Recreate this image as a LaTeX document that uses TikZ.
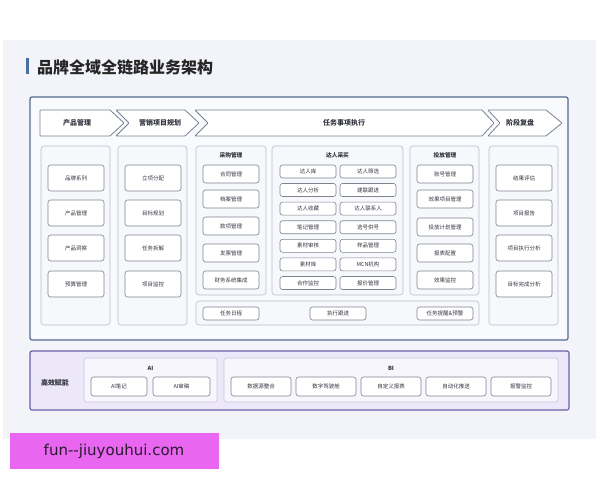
\documentclass[tikz,border=0pt]{standalone}
\usepackage{fontspec}
\setmainfont{Noto Sans CJK SC}
\newfontfamily\wmfont{DejaVu Sans}
\definecolor{bgpanel}{HTML}{F2F4FA}
\definecolor{frameline}{HTML}{56698F}
\definecolor{framefill}{HTML}{F9FAFD}
\definecolor{colline}{HTML}{B9BEC9}
\definecolor{colfill}{HTML}{F7F8FC}
\definecolor{boxline}{HTML}{7E838E}
\definecolor{chevline}{HTML}{7A8092}
\definecolor{txt}{HTML}{333640}
\definecolor{titlebar}{HTML}{4A6FA5}
\definecolor{purpfill}{HTML}{ECE8FA}
\definecolor{purpline}{HTML}{6D5FA8}
\definecolor{purpin}{HTML}{F7F6FD}
\definecolor{purpinline}{HTML}{C9C4DC}
\definecolor{wmcol}{HTML}{E866F0}
\definecolor{wmtext}{HTML}{2A1A30}
\begin{document}
\begin{tikzpicture}[x=1pt,y=-1pt,
  box/.style={draw=boxline, fill=white, rounded corners=2.5pt, line width=0.6pt,
    font=\fontsize{5.5}{6}\selectfont, text=txt, inner sep=0pt},
  bigbox/.style={box, minimum width=56pt, minimum height=26pt},
  midbox/.style={box, minimum width=56pt, minimum height=18pt},
  smallbox/.style={box, minimum width=56pt, minimum height=13pt},
  bibox/.style={box, minimum width=60pt, minimum height=19pt},
  colbox/.style={draw=colline, fill=colfill, rounded corners=3pt, line width=0.6pt},
  chev/.style={draw=chevline, fill=white, line width=0.8pt, rounded corners=0.6pt},
  chevlabel/.style={font=\bfseries\fontsize{7}{8}\selectfont, text=txt},
  hdr/.style={font=\bfseries\fontsize{5.7}{6}\selectfont, text=txt},
  inbox/.style={draw=purpinline, fill=purpin, rounded corners=2.5pt, line width=0.6pt}
]
\useasboundingbox (0,0) rectangle (600,480);
\fill[white] (0,0) rectangle (600,480);
% background panel
\fill[bgpanel] (3,40) rectangle (596,439);
% title
\fill[titlebar] (26,58) rectangle (28.5,74);
\node[anchor=west, font=\bfseries\fontsize{16}{18}\selectfont, text=black!85, inner sep=0pt] (title) at (37,67) {品牌全域全链路业务架构};
% main frame
\draw[frameline, fill=framefill, line width=1.2pt, rounded corners=2pt] (30,97) rectangle (568,340);
% chevrons
\draw[chev] (40,110) -- (110,110) -- (124,123) -- (110,136) -- (40,136) -- cycle;
\draw[chev] (116,110) -- (185,110) -- (199,123) -- (185,136) -- (116,136) -- (129,123) -- cycle;
\draw[chev] (195,110) -- (482,110) -- (494,123) -- (482,136) -- (195,136) -- (208,123) -- cycle;
\draw[chev] (488,110) -- (546,110) -- (562,123) -- (546,136) -- (488,136) -- (500,123) -- cycle;
\node[chevlabel] (h1) at (77,123) {产品管理};
\node[chevlabel] (h2) at (160,123) {营销项目规划};
\node[chevlabel] (h3) at (344,123) {任务事项执行};
\node[chevlabel] (h4) at (520,123) {阶段复盘};
% columns
\draw[colbox] (41,146) rectangle (110,325);
\draw[colbox] (118,146) rectangle (187,325);
\draw[colbox] (196,146) rectangle (266,295);
\draw[colbox] (272,146) rectangle (403,295);
\draw[colbox] (410,146) rectangle (479,295);
\draw[colbox] (489,146) rectangle (558,325);
\draw[colbox] (196,301) rectangle (479,325);
% column 1
\node[bigbox] (p1) at (76,178) {品牌系列};
\node[bigbox] (p2) at (76,213) {产品管理};
\node[bigbox] (p3) at (76,248) {产品洞察};
\node[bigbox] (p4) at (76,284) {预算管理};
% column 2
\node[bigbox] (m1) at (153,178) {立项分配};
\node[bigbox] (m2) at (153,213) {目标规划};
\node[bigbox] (m3) at (153,248) {任务拆解};
\node[bigbox] (m4) at (153,284) {项目监控};
% column 3
\node[hdr] (cg) at (231,155) {采购管理};
\node[midbox] (c1) at (231,174) {合同管理};
\node[midbox] (c2) at (231,199) {档案管理};
\node[midbox] (c3) at (231,226) {款项管理};
\node[midbox] (c4) at (231,253) {发票管理};
\node[midbox] (c5) at (231,280) {财务系统集成};
% column 4
\node[hdr] (dr) at (337.5,155) {达人采买};
\node[smallbox] (d1) at (308,171.5) {达人库};
\node[smallbox] (d2) at (368,171.5) {达人筛选};
\node[smallbox] (d3) at (308,190) {达人分析};
\node[smallbox] (d4) at (368,190) {建联跟进};
\node[smallbox] (d5) at (308,208.6) {达人收藏};
\node[smallbox] (d6) at (368,208.6) {达人联系人};
\node[smallbox] (d7) at (308,227.2) {笔记管理};
\node[smallbox] (d8) at (368,227.2) {选号供号};
\node[smallbox] (d9) at (308,245.8) {素材审核};
\node[smallbox] (d10) at (368,245.8) {样品管理};
\node[smallbox] (d11) at (308,264.4) {素材库};
\node[smallbox] (d12) at (368,264.4) {MCN机构};
\node[smallbox] (d13) at (308,283) {合作监控};
\node[smallbox] (d14) at (368,283) {报价管理};
% column 5
\node[hdr] (tf) at (445,155) {投放管理};
\node[midbox] (t1) at (445,174) {账号管理};
\node[midbox] (t2) at (445,199) {效果项目管理};
\node[midbox] (t3) at (445,227) {投放计划管理};
\node[midbox] (t4) at (445,253) {报表配置};
\node[midbox] (t5) at (445,280) {效果监控};
% column 6
\node[bigbox] (r1) at (524,178) {结果评估};
\node[bigbox] (r2) at (524,213) {项目报告};
\node[bigbox] (r3) at (524,248) {项目执行分析};
\node[bigbox] (r4) at (524,284) {目标完成分析};
% task row
\node[smallbox] (k1) at (231,313.5) {任务日程};
\node[smallbox] (k2) at (338,313.5) {执行跟进};
\node[smallbox] (k3) at (445,313.5) {任务提醒\&预警};
% purple panel
\draw[purpline, fill=purpfill, line width=1.2pt, rounded corners=2pt] (30,351) rectangle (569,410);
\node[font=\bfseries\fontsize{7}{8}\selectfont, text=txt] (gx) at (55,383) {高效赋能};
\draw[inbox] (84,358) rectangle (217,402);
\draw[inbox] (224,358) rectangle (558,402);
\node[hdr] (ai) at (150.5,368) {AI};
\node[hdr] (bi) at (391,368) {BI};
\node[box, minimum width=56pt, minimum height=19pt] (a1) at (119,386.5) {AI笔记};
\node[box, minimum width=57pt, minimum height=19pt] (a2) at (181.5,386.5) {AI审稿};
\node[bibox] (b1) at (261,386.5) {数据源整合};
\node[bibox] (b2) at (326,386.5) {数字驾驶舱};
\node[bibox] (b3) at (391,386.5) {自定义报表};
\node[bibox] (b4) at (456,386.5) {自动化推送};
\node[bibox] (b5) at (521,386.5) {报警监控};
% watermark
\fill[wmcol] (10,433) rectangle (219,469);
\node[font=\wmfont\fontsize{15}{17}\selectfont, text=wmtext, inner sep=0pt] (wm) at (114,451) {fun{-}{-}jiuyouhui.com};
\end{tikzpicture}
\end{document}
